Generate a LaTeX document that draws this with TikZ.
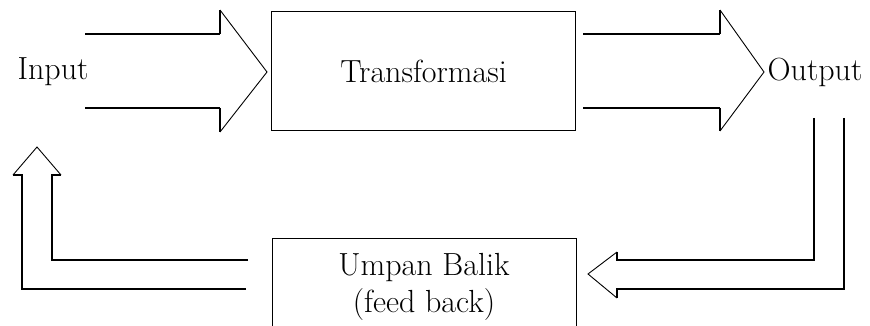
\documentclass[tikz,border=0pt]{standalone}
\usepackage{tikz}

\begin{document}
\begin{tikzpicture}[x=1pt,y=-1pt,
        tebal/.style={line width=2pt,line join=miter},
        tipis/.style={line width=0.9pt,line join=miter},
        teks/.style={font=\fontsize{32}{37}\selectfont,inner sep=0pt},
        kotak/.style={draw,line width=1pt,minimum width=304pt,inner sep=0pt,teks,align=center}]
        \useasboundingbox (0,0) rectangle (870,326);

        \node[teks] (input) at (53,72) {Input};
        \node[kotak,minimum height=119pt] (transformasi) at (423.5,71.5) {Transformasi};
        \node[teks] (output) at (815,72) {Output};
        \node[kotak,minimum height=98pt] (umpan) at (424,287) {Umpan Balik\\(feed back)};

        % panah input -> transformasi
        \foreach \y in {34,108}
        \draw[tebal] (85,\y) -- (220,\y);
        \draw[tebal] (220,34) -- (220,10);
        \draw[tebal] (220,108) -- (220,132);
        \draw[tipis] (220,10) -- (267,72) -- (220,132);

        % panah transformasi -> output
        \foreach \y in {34,108}
        \draw[tebal] (583,\y) -- (720,\y);
        \draw[tebal] (720,34) -- (720,10);
        \draw[tebal] (720,108) -- (720,131);
        \draw[tipis] (720,10) -- (764,72) -- (720,131);

        % panah output -> umpan balik
        \draw[tebal] (814,118) -- (814,260) -- (617,260) -- (617,252);
        \draw[tebal] (844,118) -- (844,289) -- (617,289) -- (617,298);
        \draw[tipis] (617,252) -- (588,274) -- (617,298);

        % panah umpan balik -> input
        \draw[tebal] (248,260) -- (52,260) -- (52,175) -- (61,175);
        \draw[tebal] (246,289) -- (22,289) -- (22,175) -- (13,175);
        \draw[tipis] (13,175) -- (37,147) -- (61,175);

\end{tikzpicture}
\end{document}
